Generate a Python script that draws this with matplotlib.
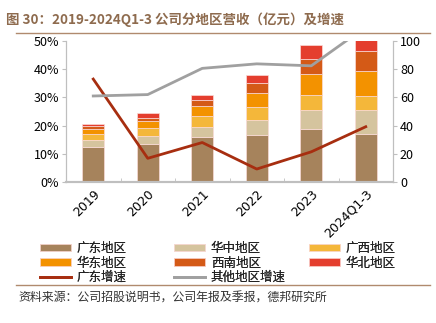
import matplotlib.pyplot as plt
import numpy as np

plt.rcParams['font.family'] = ['Noto Sans CJK SC', 'DejaVu Sans']

years = ["2019", "2020", "2021", "2022", "2023", "2024Q1-3"]

# revenue by region (亿元)
guangdong = [24.9, 27.3, 31.8, 33.2, 37.4, 33.9]
huazhong = [5.0, 5.4, 7.3, 10.6, 14.0, 17.5]
guangxi = [4.0, 5.5, 7.6, 9.3, 10.2, 9.5]
huadong = [3.8, 4.9, 7.3, 9.9, 14.7, 17.8]
xinan = [1.9, 2.6, 4.3, 6.9, 11.1, 14.0]
huabei = [1.6, 3.1, 3.5, 5.9, 10.0, 8.0]

# growth rates
gd_growth = [0.365, 0.084, 0.140, 0.046, 0.107, 0.196]
other_growth = [0.305, 0.310, 0.403, 0.419, 0.412, 0.550]

bar_series = [
    ("广东地区", guangdong, "#A6835C"),
    ("华中地区", huazhong, "#D5C49E"),
    ("广西地区", guangxi, "#F4B73A"),
    ("华东地区", huadong, "#F39200"),
    ("西南地区", xinan, "#D45A17"),
    ("华北地区", huabei, "#E43E2E"),
]

fig = plt.figure(figsize=(4.36, 3.23), dpi=100)
ax = fig.add_axes([66 / 436, 1 - 182 / 323, 327 / 436, 141 / 323])
x = np.arange(len(years))

handles = {}
bottom = np.zeros(len(years))
for name, vals, color in bar_series:
    h = ax.bar(x, vals, width=0.4, bottom=bottom, color=color,
               edgecolor="#FADBD8", linewidth=0.5, label=name, zorder=2)
    handles[name] = h
    bottom += np.array(vals)

ax.set_ylim(0, 100)
ax.set_xlim(-0.5, len(years) - 0.5)
ax.set_xticks(x)
ax.set_xticklabels(years, rotation=45, ha="right", rotation_mode="anchor", fontsize=9,
                   family=["DejaVu Sans"])
ax.tick_params(axis="x", length=0, pad=4)
ax.set_xticks(np.arange(-0.5, len(years), 1), minor=True)
ax.tick_params(axis="x", which="minor", length=3, direction="in", color="#BFBFBF")

ax2 = ax.twinx()
l1, = ax2.plot(x, gd_growth, color="#A72E10", linewidth=2, label="广东增速")
l2, = ax2.plot(x, other_growth, color="#A0A0A0", linewidth=2, label="其他地区增速")
ax2.set_ylim(0, 0.5)
ax2.yaxis.tick_left()
ax2.set_yticks([0, 0.1, 0.2, 0.3, 0.4, 0.5])
ax2.set_yticklabels(["0%", "10%", "20%", "30%", "40%", "50%"])
ax2.tick_params(axis="y", labelsize=9, length=3, color="#BFBFBF", pad=2)

ax.yaxis.tick_right()
ax.set_yticks([0, 20, 40, 60, 80, 100])
ax.tick_params(axis="y", labelsize=9, length=3, color="#BFBFBF", pad=2)

for a in (ax, ax2):
    a.spines["top"].set_visible(False)
    for s in ("left", "right"):
        a.spines[s].set_color("#BFBFBF")
    a.spines["bottom"].set_color("#BFBFBF")
    a.spines["bottom"].set_linewidth(1.5)

# legend: three columns placed separately
columns = [
    ([handles["广东地区"], handles["华东地区"], l1], ["广东地区", "华东地区", "广东增速"], 40),
    ([handles["华中地区"], handles["西南地区"], l2], ["华中地区", "西南地区", "其他地区增速"], 174),
    ([handles["广西地区"], handles["华北地区"]], ["广西地区", "华北地区"], 309),
]
for hs, labels, xpos in columns:
    leg = fig.legend(hs, labels, loc="upper left", bbox_to_anchor=(xpos / 436, 1 - 242 / 323),
                     frameon=False, fontsize=9, handlelength=2.5, handleheight=0.55,
                     labelspacing=0.12, handletextpad=0.45, borderaxespad=0, borderpad=0,
                     labelcolor="#222222")
    fig.add_artist(leg)

fig.text(6 / 436, 1 - 20 / 323, "图 30：2019-2024Q1-3 公司分地区营收（亿元）及增速",
         fontsize=9.7, fontweight="bold", color="#8E6B4E", va="center")
fig.add_artist(plt.Line2D([16 / 436, 430 / 436], [1 - 33 / 323, 1 - 33 / 323],
                          color="#B08A6E", linewidth=1))
fig.add_artist(plt.Line2D([16 / 436, 430 / 436], [1 - 285 / 323, 1 - 285 / 323],
                          color="#B08A6E", linewidth=1))
fig.text(18 / 436, 1 - 298 / 323, "资料来源：公司招股说明书，公司年报及季报，德邦研究所",
         fontsize=8.6, color="#333333", va="center")

fig.savefig("out.png", dpi=100)
